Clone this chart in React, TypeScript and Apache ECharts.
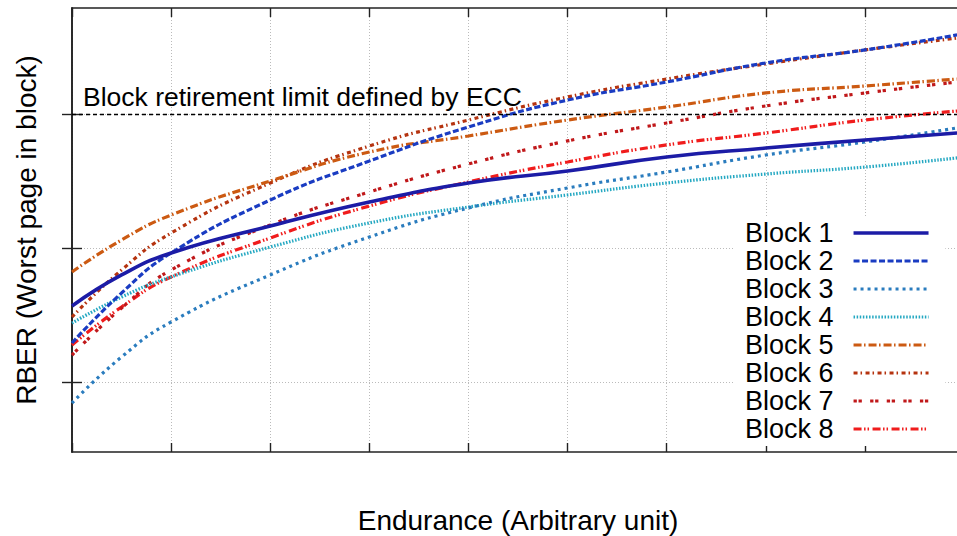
import React, { useEffect, useRef } from "react";
import * as echarts from "echarts";

// Endurance (arbitrary unit) sample positions
const xValues = [0, 0.5, 1, 2, 3, 4, 5, 6, 7, 8, 8.93];

// RBER (arbitrary log-like unit; ticks at 1, 2, 3)
const block1 = [1.567, 1.799, 1.963, 2.164, 2.343, 2.485, 2.575, 2.679, 2.746, 2.806, 2.858];
const block2 = [1.291, 1.664, 1.963, 2.358, 2.649, 2.903, 3.104, 3.239, 3.381, 3.478, 3.59];
const block3 = [0.843, 1.187, 1.448, 1.799, 2.082, 2.299, 2.448, 2.567, 2.694, 2.791, 2.896];
const block4 = [1.44, 1.634, 1.784, 2.007, 2.187, 2.306, 2.396, 2.485, 2.552, 2.604, 2.672];
const block5 = [1.821, 2.06, 2.246, 2.5, 2.716, 2.836, 2.955, 3.052, 3.157, 3.209, 3.261];
const block6 = [1.485, 1.836, 2.112, 2.485, 2.761, 2.955, 3.127, 3.261, 3.373, 3.478, 3.567];
const block7 = [1.201, 1.552, 1.836, 2.172, 2.418, 2.627, 2.799, 2.933, 3.06, 3.157, 3.239];
const block8 = [1.276, 1.56, 1.784, 2.075, 2.313, 2.493, 2.642, 2.769, 2.858, 2.955, 3.022];

const seriesNames = ["Block 1", "Block 2", "Block 3", "Block 4", "Block 5", "Block 6", "Block 7", "Block 8"];
const seriesValues = [block1, block2, block3, block4, block5, block6, block7, block8];

const limitValue = 3;
const limitLabel = "Block retirement limit defined by ECC";
const yTicks = [1, 2, 3];
const yMin = 0.47761;
const yMax = 3.79104;
const xMin = 0;
const xMax = 9;

const styles: { color: string; width: number; type: any }[] = [
  { color: "#1c1ca6", width: 3.6, type: "solid" },
  { color: "#1a3cc2", width: 3.2, type: [6, 2.5] },
  { color: "#2a7cbe", width: 3.2, type: [3, 4] },
  { color: "#24a8c2", width: 3.2, type: [1.5, 1.6] },
  { color: "#cc5a12", width: 3.2, type: [8, 2.5, 1.5, 3] },
  { color: "#b5330f", width: 3.2, type: [4, 3, 1.5, 3.5] },
  { color: "#c0181a", width: 3.2, type: [3.3, 1.7, 3.3, 8.3] },
  { color: "#f01c1c", width: 3.2, type: [8, 2.5, 1.5, 2, 1.5, 3.5] },
];

const FONT = "'Liberation Sans', Arial, Helvetica, sans-serif";

export default function App() {
  const ref = useRef<HTMLDivElement>(null);
  useEffect(() => {
    if (!ref.current) return;
    const chart = echarts.init(ref.current, null, { renderer: "svg", width: 957, height: 536 });
    const gridLine = { show: true, lineStyle: { color: "#bbbbbb", width: 1, type: [1, 2] } };
    const axisLine = { show: true, lineStyle: { color: "#222", width: 1.6 } };
    const tick = { show: true, inside: true, length: 9, lineStyle: { color: "#222", width: 1.4 } };

    const series: any[] = seriesNames.map((name, i) => ({
      name,
      type: "line",
      xAxisIndex: 0,
      yAxisIndex: 0,
      data: xValues.map((x, j) => [x, seriesValues[i][j]]),
      symbol: "none",
      showSymbol: false,
      smooth: 0.5,
      z: 3 + (8 - i) * 0.01,
      lineStyle: { color: styles[i].color, width: styles[i].width, type: styles[i].type, cap: "butt" },
      itemStyle: { color: styles[i].color },
    }));
    series[0].markLine = {
      silent: true,
      symbol: ["none", "none"],
      animation: false,
      lineStyle: { color: "#000", width: 1.3, type: [4, 3] },
      label: {
        show: true,
        formatter: limitLabel,
        position: "insideStartTop",
        distance: [11, 3],
        fontSize: 26.5,
        fontFamily: FONT,
        color: "#000",
      },
      data: [{ yAxis: limitValue }],
    };

    chart.setOption({
      animation: false,
      textStyle: { fontFamily: FONT },
      grid: { left: 72, top: 8, width: 892, height: 444, containLabel: false, outerBoundsMode: "none" },
      xAxis: [
        {
          type: "value",
          min: xMin,
          max: xMax,
          interval: 1,
          position: "bottom",
          name: "Endurance (Arbitrary unit)",
          nameLocation: "middle",
          nameGap: 54,
          nameTextStyle: { fontSize: 28, color: "#000", fontFamily: FONT },
          axisLine,
          axisTick: tick,
          axisLabel: { show: false },
          splitLine: gridLine,
        },
        {
          type: "value",
          min: xMin,
          max: xMax,
          interval: 1,
          position: "top",
          axisLine,
          axisTick: tick,
          axisLabel: { show: false },
          splitLine: { show: false },
        },
      ],
      yAxis: [
        {
          type: "value",
          min: yMin,
          max: yMax,
          position: "left",
          name: "RBER (Worst page in block)",
          nameLocation: "middle",
          nameGap: 32,
          nameTextStyle: { fontSize: 28, color: "#000", fontFamily: FONT },
          axisLine,
          axisTick: { ...tick, length: 10, customValues: yTicks },
          axisLabel: { show: false, customValues: yTicks },
          splitLine: gridLine,
        },
        {
          type: "value",
          min: yMin,
          max: yMax,
          position: "right",
          axisLine,
          axisTick: { ...tick, length: 10, customValues: yTicks },
          axisLabel: { show: false, customValues: yTicks },
          splitLine: { show: false },
        },
      ],
      legend: {
        orient: "vertical",
        left: 735,
        top: 216,
        align: "right",
        itemWidth: 75,
        itemHeight: 12,
        itemGap: 0,
        backgroundColor: "#fff",
        padding: [3, 15, 3, 10],
        z: 10,
        selectedMode: false,
        textStyle: { fontSize: 27, color: "#000", fontFamily: FONT, lineHeight: 28, padding: [0, 15, 0, 0] },
        itemStyle: { opacity: 0, borderWidth: 0 },
        lineStyle: { width: "inherit" },
        data: seriesNames,
      },
      series,
    });
    return () => chart.dispose();
  }, []);
  return (
    <div
      ref={ref}
      style={{ position: "fixed", left: 0, top: 0, width: 957, height: 536, background: "#fff" }}
    />
  );
}
